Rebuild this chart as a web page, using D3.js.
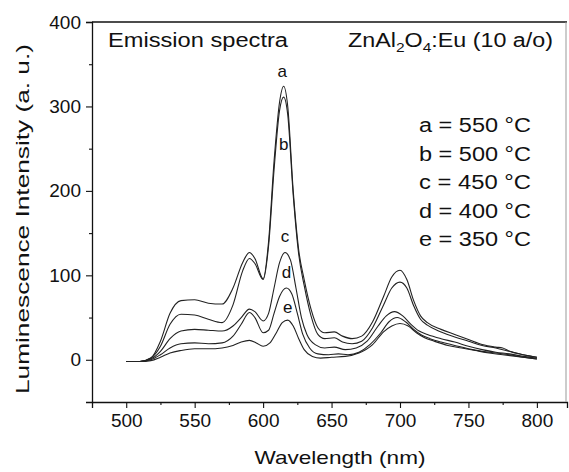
<!DOCTYPE html>
<html>
<head>
<meta charset="utf-8">
<script src="https://cdn.jsdelivr.net/npm/d3@7"></script>
<style>
  body { margin: 0; background: #fff; }
  text { font-family: "Liberation Sans", Arial, sans-serif; fill: #111; }
</style>
</head>
<body>
<div id="chart"></div>
<script>
// spectra: [wavelength nm, intensity a.u.]
const curveA = [[500,-2],[510,-2],[518,2],[525,22],[532,55],[540,70],[550,71],[560,67],[570,66],[578,85],[585,115],[590,127],[594,120],[600,96],[604,140],[608,235],[612,305],[615,324],[618,300],[622,200],[626,130],[630,95],[635,60],[640,38],[645,32],[652,33],[658,28],[665,25],[672,28],[680,45],[688,75],[694,98],[700,106],[705,95],[710,70],[715,52],[720,44],[730,36],[740,30],[750,24],[760,18],[770,15],[775,14],[780,10],[790,6],[800,3]]
const curveB = [[500,-2],[510,-2],[518,2],[525,16],[532,42],[540,54],[550,53],[560,48],[570,44],[578,65],[585,105],[590,120],[594,114],[600,95],[604,135],[608,225],[612,295],[615,311],[618,290],[622,195],[626,125],[630,88],[635,52],[640,30],[645,25],[652,26],[658,21],[665,19],[672,22],[680,38],[688,65],[694,85],[700,92],[705,85],[710,64],[715,48],[720,41],[730,33],[740,27],[750,22],[760,17],[770,14],[780,10],[790,6],[800,3]]
const curveC = [[500,-2],[510,-2],[518,1],[525,10],[532,25],[540,34],[550,36],[560,35],[570,34],[578,40],[584,50],[590,60],[594,57],[600,46],[604,55],[608,85],[612,115],[616,127],[620,118],[624,85],[628,50],[632,30],[638,18],[645,14],[652,15],[660,12],[668,14],[676,22],[684,40],[690,52],[696,57],[702,52],[708,42],[714,34],[720,30],[730,25],[740,21],[750,16],[760,12],[770,9],[780,7],[790,4],[800,2]]
const curveD = [[500,-2],[510,-2],[518,0],[525,6],[532,14],[540,19],[550,20],[560,19],[570,20],[578,28],[584,42],[590,56],[594,50],[600,32],[604,35],[608,55],[612,75],[617,85],[621,78],[625,55],[629,30],[634,14],[640,7],[648,6],[655,7],[662,6],[670,9],[678,18],[686,32],[692,45],[698,50],[704,45],[710,36],[716,29],[722,25],[730,21],[740,17],[750,13],[760,10],[770,8],[780,6],[790,3],[800,1]]
const curveE = [[500,-2],[510,-2],[518,-1],[525,3],[532,8],[540,11],[550,13],[560,13],[570,14],[578,17],[584,21],[590,23],[595,20],[600,16],[605,20],[610,33],[614,44],[618,47],[622,40],[626,25],[630,12],[636,4],[642,2],[650,3],[660,4],[670,8],[680,18],[688,33],[694,40],[700,43],[706,40],[712,32],[718,26],[725,22],[735,17],[745,14],[755,11],[765,8],[775,6],[785,4],[800,1]]

const curveLabels = [["a",614,342],["b",615,256],["c",616,146],["d",617,104],["e",618,63]]
const legendLines = ["a = 550 °C","b = 500 °C","c = 450 °C","d = 400 °C","e = 350 °C"]
const xTicks = [500,550,600,650,700,750,800]
const xMinor = [525,575,625,675,725,775]
const yTicks = [0,100,200,300,400]
const yMinor = [50,150,250,350]

const W = 569, H = 472
const margin = {top: 22, right: 2, bottom: 70, left: 92}

const svg = d3.select("#chart").append("svg")
    .attr("width", W)
    .attr("height", H)

const x = d3.scaleLinear().domain([475, 822]).range([margin.left, W - margin.right])
const y = d3.scaleLinear().domain([-50, 400]).range([H - margin.bottom, margin.top])

//ejes
const xAxis = svg.append("g")
    .attr("transform", `translate(0, ${H - margin.bottom})`)
    .call(d3.axisBottom(x).tickValues(xTicks).tickSize(6).tickPadding(6).tickFormat(d3.format("d")))
svg.append("g")
    .attr("transform", `translate(0, ${H - margin.bottom})`)
    .call(d3.axisBottom(x).tickValues(xMinor).tickSize(3).tickFormat(""))
    .select(".domain").remove()

const yAxis = svg.append("g")
    .attr("transform", `translate(${margin.left}, 0)`)
    .call(d3.axisLeft(y).tickValues(yTicks).tickSize(6).tickPadding(5))
svg.append("g")
    .attr("transform", `translate(${margin.left}, 0)`)
    .call(d3.axisLeft(y).tickValues(yMinor).tickSize(3).tickFormat(""))
    .select(".domain").remove()

svg.selectAll(".domain").attr("stroke", "#111").attr("stroke-width", 1.3)
svg.selectAll(".tick line").attr("stroke", "#111").attr("stroke-width", 1.1)
svg.selectAll(".tick text").attr("font-size", 19).attr("font-family", "Liberation Sans, Arial, sans-serif").attr("fill", "#111")

// top and right frame
svg.append("line")
    .attr("x1", x(475)).attr("x2", x(822))
    .attr("y1", y(400)).attr("y2", y(400))
    .attr("stroke", "#111").attr("stroke-width", 1.3)
svg.append("line")
    .attr("x1", x(822) - 1).attr("x2", x(822) - 1)
    .attr("y1", y(400)).attr("y2", y(-50))
    .attr("stroke", "#999").attr("stroke-width", 1)

//curvas
const line = d3.line()
    .x(d => x(d[0]))
    .y(d => y(d[1]))
    .curve(d3.curveMonotoneX)

svg.selectAll("path.spec")
    .data([curveA, curveB, curveC, curveD, curveE])
    .enter()
    .append("path")
    .attr("class", "spec")
    .attr("d", line)
    .attr("fill", "none")
    .attr("stroke", "#222")
    .attr("stroke-width", 1.1)

svg.selectAll("text.clab")
    .data(curveLabels)
    .enter()
    .append("text")
    .attr("class", "clab")
    .attr("x", d => x(d[1]))
    .attr("y", d => y(d[2]))
    .attr("text-anchor", "middle")
    .attr("dy", "0.35em")
    .attr("font-size", 17)
    .text(d => d[0])

// textos
svg.append("text")
    .attr("x", 108).attr("y", 47)
    .attr("font-size", 19.5)
    .attr("textLength", 180).attr("lengthAdjust", "spacingAndGlyphs")
    .text("Emission spectra")

const formula = svg.append("text")
    .attr("x", 348).attr("y", 47)
    .attr("font-size", 19.5)
    .attr("textLength", 205).attr("lengthAdjust", "spacingAndGlyphs")
formula.append("tspan").text("ZnAl")
formula.append("tspan").attr("font-size", 13).attr("dy", 5).text("2")
formula.append("tspan").attr("dy", -5).text("O")
formula.append("tspan").attr("font-size", 13).attr("dy", 5).text("4")
formula.append("tspan").attr("dy", -5).text(":Eu (10 a/o)")

svg.selectAll("text.leg")
    .data(legendLines)
    .enter()
    .append("text")
    .attr("class", "leg")
    .attr("x", 419)
    .attr("y", (d, i) => 132 + i * 28.5)
    .attr("font-size", 20)
    .attr("textLength", 112).attr("lengthAdjust", "spacingAndGlyphs")
    .text(d => d)

svg.append("text")
    .attr("x", 340).attr("y", 464)
    .attr("text-anchor", "middle")
    .attr("font-size", 19)
    .attr("textLength", 171).attr("lengthAdjust", "spacingAndGlyphs")
    .text("Wavelength (nm)")

svg.append("text")
    .attr("transform", `translate(29, 219) rotate(-90)`)
    .attr("text-anchor", "middle")
    .attr("font-size", 19)
    .attr("textLength", 350).attr("lengthAdjust", "spacingAndGlyphs")
    .text("Luminescence Intensity (a. u.)")
</script>
</body>
</html>
